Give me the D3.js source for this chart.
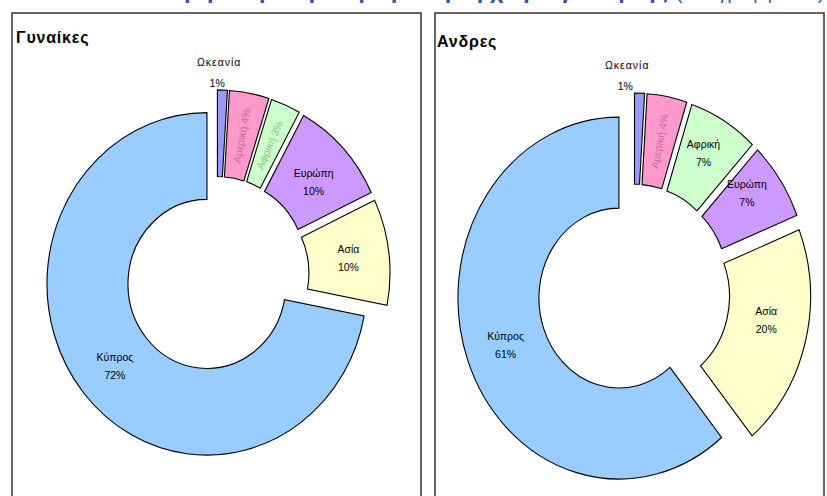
<!DOCTYPE html>
<html>
<head>
  <meta charset="utf-8">
  <title>Γυναίκες / Άνδρες κατά τόπο γέννησης</title>
  <style>
  body { margin: 0; background: #fff; }
  svg { display: block; font-family: "Liberation Sans", Arial, sans-serif; }
  .slice { stroke: #000; stroke-width: 1.1px; vector-effect: non-scaling-stroke; }
  .frame { fill: none; stroke: #333; stroke-width: 1.5px; }
  .title { font-weight: bold; font-size: 16px; letter-spacing: 0.8px; }
  .lbl { font-size: 10.5px; fill: #000; }
  </style>
</head>
<body>
<script src="https://cdnjs.cloudflare.com/ajax/libs/d3/7.8.5/d3.min.js"></script>
<script>
// data (percent)
var regions = ["Ωκεανία", "Αμερική", "Αφρική", "Ευρώπη", "Ασία", "Κύπρος"];
var women = [1, 4, 3, 10, 10, 72];
var men = [1, 4, 7, 7, 20, 61];
var colors = ["#9999ff", "#ff99cc", "#ccffcc", "#cc99ff", "#ffffcc", "#99ccff"];
var rotColors = ["#000", "#c86a9c", "#8fc48f", "#000", "#000", "#000"];

var width = 827, height = 496;

var svg = d3.select("body").append("svg")
    .attr("width", width)
    .attr("height", height);

// cut-off heading at the very top of the picture
svg.append("text")
    .attr("x", 100).attr("y", -1.5)
    .attr("fill", "#2f55a4")
    .style("font-size", "18px").style("font-weight", "bold")
    .attr("textLength", 568).attr("lengthAdjust", "spacingAndGlyphs")
    .text("Κατανομή πληθυσμού με βάση τη χώρα γέννησης");
svg.append("text")
    .attr("x", 676).attr("y", -1.5)
    .attr("fill", "#2f55a4")
    .style("font-size", "18px")
    .attr("textLength", 148).attr("lengthAdjust", "spacingAndGlyphs")
    .text("(Απογραφή 2011)");

// panel frames (no bottom edge inside the picture)
svg.append("path").attr("class", "frame")
    .attr("d", "M12,500 V13 H421 V500");
svg.append("path").attr("class", "frame")
    .attr("d", "M435,500 V13 H824 V500");

var panels = [
  { title: "Γυναίκες", values: women, tx: 16, ty: 43, cx: 217, cy: 275, R: 160, r: 79, off: 13, ky: 1.07,
    oceDx: -2, lblDy: [0, 0, 0, 2, -1, -1] },
  { title: "Ανδρες", values: men, tx: 437, ty: 47, cx: 634, cy: 292, R: 161, r: 80, off: 16, ky: 1.124,
    oceDx: -11, lblDy: [0, 0, -9, -15, -12, -1] }
];

var pie = d3.pie().sort(null).value(function(d) { return d; });

panels.forEach(function(p) {
  svg.append("text").attr("class", "title")
      .attr("x", p.tx).attr("y", p.ty)
      .text(p.title);

  var arc = d3.arc().innerRadius(p.r).outerRadius(p.R);
  var arcs = pie(p.values);

  var g = svg.append("g")
      .attr("transform", "translate(" + p.cx + "," + p.cy + ") scale(1," + p.ky + ")");

  function shift(d) {
    var a = (d.startAngle + d.endAngle) / 2;
    return [Math.sin(a) * p.off, -Math.cos(a) * p.off];
  }

  g.selectAll("path")
      .data(arcs)
    .enter().append("path")
      .attr("class", "slice")
      .attr("fill", function(d, i) { return colors[i]; })
      .attr("transform", function(d) { return "translate(" + shift(d) + ")"; })
      .attr("d", arc);

  var lg = svg.append("g");
  arcs.forEach(function(d, i) {
    var a = (d.startAngle + d.endAngle) / 2;
    var c = arc.centroid(d), s = shift(d);
    var x = p.cx + c[0] + s[0], y = p.cy + (c[1] + s[1]) * p.ky + p.lblDy[i];
    var pct = d.data + "%";
    if (i === 0) {
      // small slice: label above the ring
      var top = p.cy - (p.R + p.off) * p.ky;
      lg.append("text").attr("class", "lbl").attr("text-anchor", "middle")
          .attr("x", x + p.oceDx).attr("y", top - 24).style("letter-spacing", "1px").text(regions[i]);
      lg.append("text").attr("class", "lbl").attr("text-anchor", "middle")
          .attr("x", x + p.oceDx - 2).attr("y", top - 3).text(pct);
    } else if (d.data <= 4) {
      // narrow slice: one rotated line along the radius
      var deg = a * 180 / Math.PI - 90;
      lg.append("text").attr("class", "lbl").attr("text-anchor", "middle")
          .attr("fill", rotColors[i]).style("fill", rotColors[i])
          .attr("transform", "translate(" + x + "," + y + ") rotate(" + deg + ")")
          .attr("dy", "0.35em")
          .text(regions[i] + " " + pct);
    } else {
      lg.append("text").attr("class", "lbl").attr("text-anchor", "middle")
          .attr("x", x).attr("y", y - 3).text(regions[i]);
      lg.append("text").attr("class", "lbl").attr("text-anchor", "middle")
          .attr("x", x).attr("y", y + 15).text(pct);
    }
  });
});
</script>
</body>
</html>
